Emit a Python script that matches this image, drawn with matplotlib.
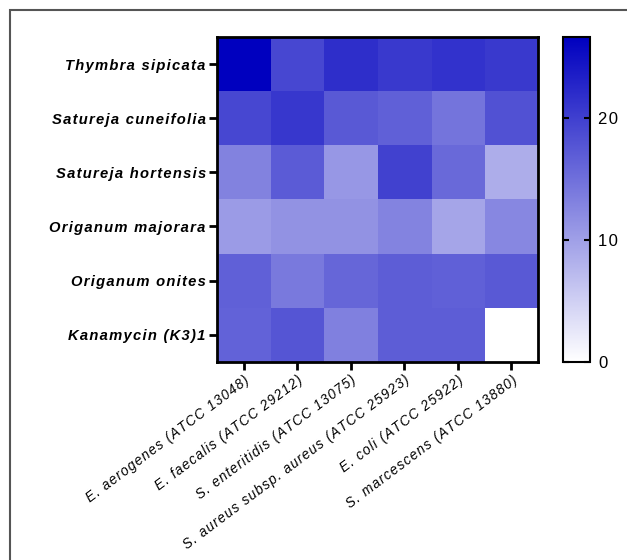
import matplotlib
matplotlib.use("Agg")
import matplotlib.pyplot as plt
import numpy as np
from matplotlib.colors import LinearSegmentedColormap
from matplotlib.patches import Rectangle

rows = ["Thymbra sipicata", "Satureja cuneifolia", "Satureja hortensis",
        "Origanum majorara", "Origanum onites", "Kanamycin (K3)1"]
cols = ["E. aerogenes (ATCC 13048)", "E. faecalis (ATCC 29212)",
        "S. enteritidis (ATCC 13075)", "S. aureus subsp. aureus (ATCC 25923)",
        "E. coli (ATCC 25922)", "S. marcescens (ATCC 13880)"]
thymbra = [26.5, 19.2, 21.8, 20.5, 21.2, 20.5]
cuneifolia = [19.2, 20.8, 17.3, 16.6, 14.5, 18.0]
hortensis = [13.0, 17.1, 10.9, 19.7, 15.6, 8.6]
majorara = [10.4, 11.4, 11.4, 12.8, 9.4, 12.5]
onites = [16.6, 14.0, 15.9, 16.9, 16.6, 17.3]
kanamycin = [16.3, 17.7, 13.2, 16.9, 16.9, 0.0]
cbar_ticks = [0, 10, 20]
vmax = 26.6

data = np.array([thymbra, cuneifolia, hortensis, majorara, onites, kanamycin])

plt.rcParams['font.family'] = ['Liberation Sans', 'DejaVu Sans']

cmap = LinearSegmentedColormap.from_list("wb", [(1, 1, 1), (0, 0, 0.75)])

fig = plt.figure(figsize=(6.27, 5.6), dpi=100)
ax = fig.add_axes([0.346, 0.354, 0.512, 0.580])
cax = fig.add_axes([0.898, 0.354, 0.043, 0.580])

im = ax.imshow(data, cmap=cmap, vmin=0, vmax=vmax, aspect='auto',
               interpolation='nearest')

def spaced(s):
    return "\u200a".join(list(s))

ax.set_yticks(range(len(rows)))
ax.set_yticklabels([spaced(r) for r in rows], fontsize=10.6, fontweight='bold',
                   fontstyle='italic')
ax.set_xticks(range(len(cols)))
ax.set_xticklabels([spaced(c) for c in cols], fontsize=9.8, fontstyle='italic',
                   rotation=37, ha='right', rotation_mode='anchor')
ax.tick_params(axis='both', direction='out', length=6, width=2, color='black')
ax.tick_params(axis='y', pad=2)
ax.tick_params(axis='x', pad=2)
for sp in ax.spines.values():
    sp.set_linewidth(2)

cb = fig.colorbar(im, cax=cax, ticks=cbar_ticks)
cb.outline.set_linewidth(1.5)
cax.tick_params(direction='in', length=4, width=1.5, labelsize=12, pad=6)
cax.yaxis.set_ticks_position('both')
cax.tick_params(axis='y', labelleft=False, labelright=True)
cax.set_yticklabels([spaced(str(t)) for t in cbar_ticks])

fig.patches.append(Rectangle((10 / 627, -0.2), 1.5, 1.2 - 10 / 560,
                             transform=fig.transFigure, fill=False,
                             edgecolor='#555555', linewidth=1.5, clip_on=False))

fig.savefig("out.png", dpi=100)
